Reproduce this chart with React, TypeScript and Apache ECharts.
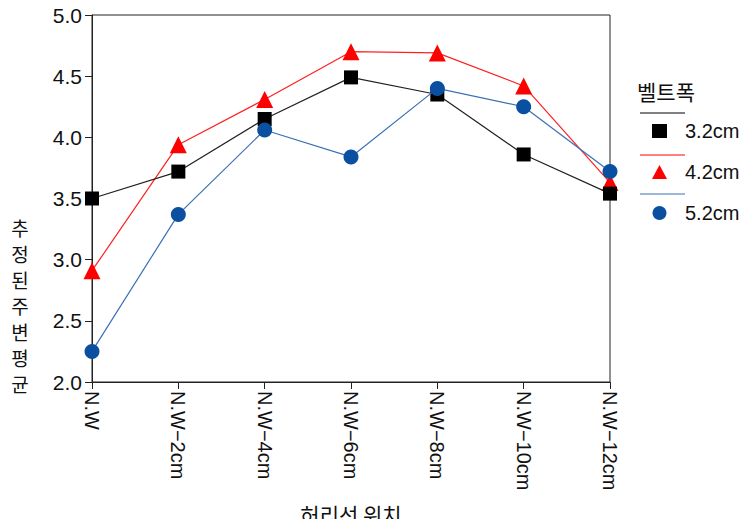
import React, { useEffect, useRef } from "react";
import * as echarts from "echarts";

const categories = ["N.W", "N.W\u22122cm", "N.W\u22124cm", "N.W\u22126cm", "N.W\u22128cm", "N.W\u221210cm", "N.W\u221212cm"];
const seriesNames = ["3.2cm", "4.2cm", "5.2cm"];
const values32 = [3.5, 3.72, 4.15, 4.49, 4.35, 3.86, 3.54];
const values42 = [2.91, 3.94, 4.31, 4.7, 4.69, 4.42, 3.63];
const values52 = [2.25, 3.37, 4.06, 3.84, 4.4, 4.25, 3.72];
const yTicks = [2.0, 2.5, 3.0, 3.5, 4.0, 4.5, 5.0];
const yTitleChars = ["추", "정", "된", "주", "변", "평", "균"];

const LATIN = "'Liberation Sans', Arial, 'Noto Sans CJK KR', sans-serif";
const CJK = "'Noto Sans CJK KR', 'Liberation Sans', sans-serif";

export default function App() {
  const ref = useRef<HTMLDivElement>(null);
  useEffect(() => {
    if (!ref.current) return;
    const chart = echarts.init(ref.current, undefined, { renderer: "svg" });
    chart.setOption({
      animation: false,
      backgroundColor: "#fff",
      grid: {
        left: 92,
        right: 137,
        top: 15,
        bottom: 145,
        show: true,
        borderColor: "#222",
        borderWidth: 1,
        containLabel: false,
        outerBoundsMode: "none",
      },
      xAxis: {
        type: "category",
        data: categories,
        boundaryGap: false,
        axisLine: { lineStyle: { color: "#222", width: 1 } },
        axisTick: { show: true, length: 7, inside: false, alignWithLabel: true, lineStyle: { color: "#222" } },
        axisLabel: { rotate: -90, color: "#111", fontSize: 20, fontFamily: LATIN, margin: 9, interval: 0 },
        splitLine: { show: false },
        name: "허리선 위치",
        nameLocation: "middle",
        nameGap: 121,
        nameTextStyle: { fontSize: 21, color: "#111", fontFamily: CJK },
      },
      yAxis: {
        type: "value",
        min: yTicks[0],
        max: yTicks[yTicks.length - 1],
        interval: 0.5,
        axisLine: { show: true, lineStyle: { color: "#222", width: 1 } },
        axisTick: { show: true, length: 7, inside: false, lineStyle: { color: "#222" } },
        axisLabel: { color: "#111", fontSize: 21, fontFamily: LATIN, margin: 10, formatter: (v: number) => v.toFixed(1) },
        splitLine: { show: false },
      },
      legend: {
        orient: "vertical",
        left: 647,
        top: 116,
        itemWidth: 15,
        itemHeight: 14,
        itemGap: 21,
        textStyle: { fontSize: 20, lineHeight: 20, color: "#111", fontFamily: LATIN, padding: [0, 0, 0, 13] },
        data: [
          { name: seriesNames[0], icon: "rect" },
          { name: seriesNames[1], icon: "triangle" },
          { name: seriesNames[2], icon: "circle" },
        ],
      },
      graphic: [
        { type: "text", left: 637, top: 80, style: { text: "벨트폭", fontSize: 21, fill: "#111", fontFamily: CJK } },
        { type: "line", shape: { x1: 640, y1: 113, x2: 685, y2: 113 }, style: { stroke: "#000", lineWidth: 1 } },
        { type: "line", shape: { x1: 640, y1: 155, x2: 685, y2: 155 }, style: { stroke: "#ff0000", lineWidth: 1 } },
        { type: "line", shape: { x1: 640, y1: 194, x2: 685, y2: 194 }, style: { stroke: "#3a70b5", lineWidth: 1 } },
        ...yTitleChars.map((ch, i) => ({
          type: "text",
          x: 20,
          y: 227 + i * 26,
          style: { text: ch, fontSize: 19, fill: "#111", fontFamily: CJK, align: "center", verticalAlign: "middle" },
        })),
      ],
      series: [
        {
          name: seriesNames[0],
          type: "line",
          data: values32,
          symbol: "rect",
          symbolSize: 14,
          itemStyle: { color: "#000" },
          lineStyle: { color: "#222", width: 1.2 },
          z: 3,
        },
        {
          name: seriesNames[1],
          type: "line",
          data: values42,
          symbol: "triangle",
          symbolSize: 17,
          itemStyle: { color: "#ff0000" },
          lineStyle: { color: "#ff2020", width: 1.2 },
          z: 2,
        },
        {
          name: seriesNames[2],
          type: "line",
          data: values52,
          symbol: "circle",
          symbolSize: 15,
          itemStyle: { color: "#0b4fa0" },
          lineStyle: { color: "#3a70b5", width: 1.2 },
          z: 4,
        },
      ],
    });
    return () => chart.dispose();
  }, []);
  return <div ref={ref} style={{ width: 747, height: 527, margin: -8 }} />;
}
